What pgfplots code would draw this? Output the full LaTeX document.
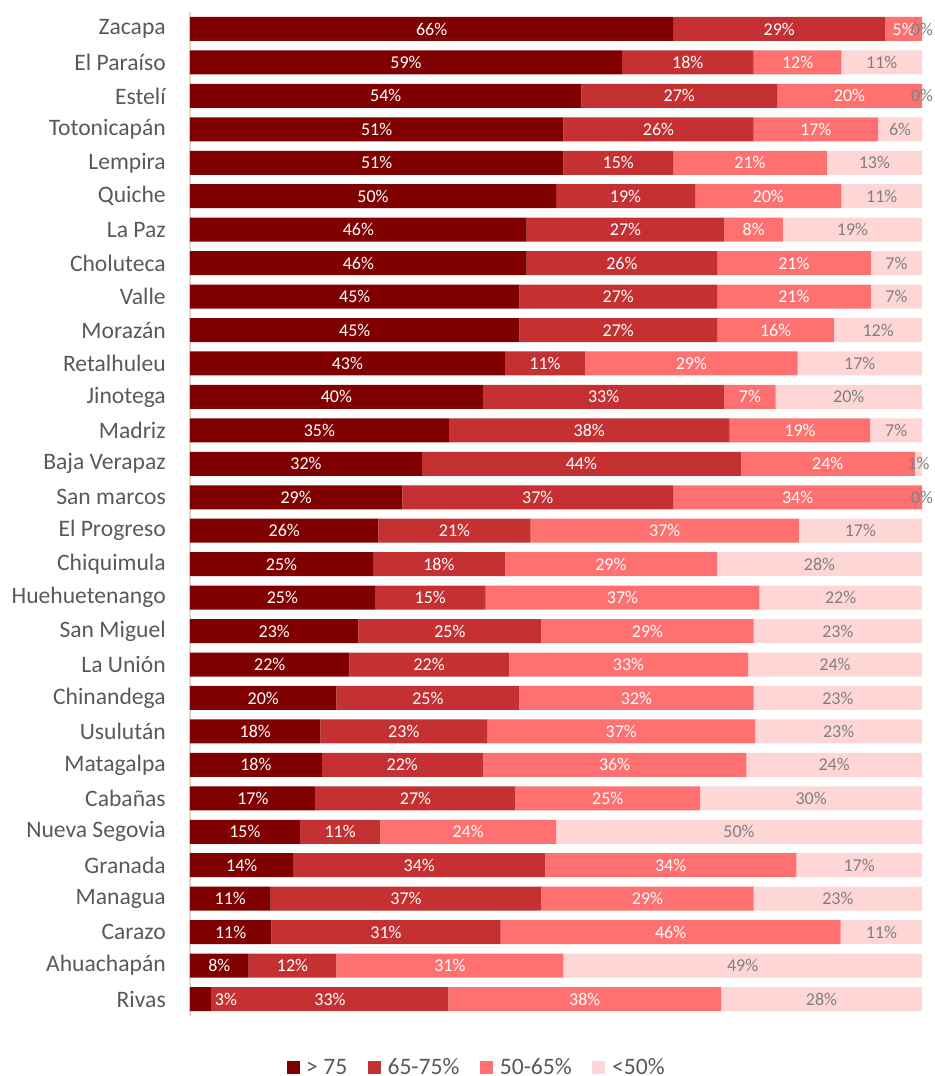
\documentclass[border=0pt]{standalone}
\usepackage{fontspec}
\setmainfont{Carlito}
\usepackage{pgfplots}
\usepackage{pgfplotstable}
\pgfplotsset{compat=1.18}
\definecolor{cA}{RGB}{128,0,0}
\definecolor{cB}{RGB}{197,48,50}
\definecolor{cC}{RGB}{255,112,112}
\definecolor{cD}{RGB}{255,214,214}
\definecolor{labgray}{RGB}{89,89,89}
\definecolor{dgray}{RGB}{128,128,128}
\pgfplotstableread{
idx a b c d
0 66 29 5 0
1 59 18 12 11
2 54 27 20 0
3 51 26 17 6
4 51 15 21 13
5 50 19 20 11
6 46 27 8 19
7 46 26 21 7
8 45 27 21 7
9 45 27 16 12
10 43 11 29 17
11 40 33 7 20
12 35 38 19 7
13 32 44 24 1
14 29 37 34 0
15 26 21 37 17
16 25 18 29 28
17 25 15 37 22
18 23 25 29 23
19 22 22 33 24
20 20 25 32 23
21 18 23 37 23
22 18 22 36 24
23 17 27 25 30
24 15 11 24 50
25 14 34 34 17
26 11 37 29 23
27 11 31 46 11
28 8 12 31 49
29 3 33 38 28
}\data
\newcommand{\rowsum}{(\thisrow{a}+\thisrow{b}+\thisrow{c}+\thisrow{d})}
\pgfplotsset{
  common/.style={
    at={(142.5pt,797.8pt)}, anchor=north west,
    scale only axis, width=549pt, height=752.6pt,
    xmin=0, xmax=100, ymin=-0.5, ymax=29.5,
    y dir=reverse, clip=false,
  },
  lab/.style={draw=none, mark=none, nodes near coords={\pgfmathprintnumber{\pgfplotspointmeta}\%},
    nodes near coords align={center}, point meta=explicit,
    every node near coord/.append style={anchor=center, inner sep=0pt, font=\fontsize{13.5}{15}\selectfont, text=#1}},
}
\begin{document}
\begin{tikzpicture}
\useasboundingbox (0,0) rectangle (701.25pt,807pt);
\begin{axis}[
  common,
  xbar stacked, bar width=18pt,
  axis x line=none,
  axis y line*=left,
  y axis line style={draw=black!15, line width=0.8pt, -},
  ytick={0,...,29},
  yticklabels={Zacapa, El Paraíso, Estelí, Totonicapán, Lempira, Quiche, La Paz, Choluteca, Valle, Morazán, Retalhuleu, Jinotega, Madriz, Baja Verapaz, San marcos, El Progreso, Chiquimula, Huehuetenango, San Miguel, La Unión, Chinandega, Usulután, Matagalpa, Cabañas, Nueva Segovia, Granada, Managua, Carazo, Ahuachapán, Rivas},
  major tick length=0pt,
  yticklabel style={font=\fontsize{17.7}{20}\selectfont, text=labgray, inner sep=0pt, xshift=-18pt},
  legend style={draw=none, fill=none, at={(0.392,-0.052)}, anchor=center, legend columns=4,
    font=\fontsize{17.7}{20}\selectfont, text=labgray,
    /tikz/every odd column/.append style={column sep=3pt},
    /tikz/every even column/.append style={column sep=13.5pt}},
  legend image code/.code={\fill[#1] (0pt,-4.9pt) rectangle (9.75pt,4.9pt);},
]
\addplot[fill=cA, draw=none]
  table[x expr={\thisrow{a}*100/\rowsum}, y=idx] {\data};
\addplot[fill=cB, draw=none]
  table[x expr={\thisrow{b}*100/\rowsum}, y=idx] {\data};
\addplot[fill=cC, draw=none]
  table[x expr={\thisrow{c}*100/\rowsum}, y=idx] {\data};
\addplot[fill=cD, draw=none]
  table[x expr={\thisrow{d}*100/\rowsum}, y=idx] {\data};
\legend{> 75, 65-75\%, 50-65\%, <50\%}
\end{axis}
\begin{axis}[common, hide axis,
  /pgf/number format/.cd, fixed, precision=0, assume math mode=true]
\addplot[lab=white]
  table[x expr={ifthenelse(\thisrow{a}<5, 4.9, \thisrow{a}*50/\rowsum)}, y=idx, meta=a] {\data};
\addplot[lab=white]
  table[x expr={(\thisrow{a}+\thisrow{b}/2)*100/\rowsum}, y=idx, meta=b] {\data};
\addplot[lab=white]
  table[x expr={(\thisrow{a}+\thisrow{b}+\thisrow{c}/2)*100/\rowsum}, y=idx, meta=c] {\data};
\addplot[lab=dgray]
  table[x expr={(\thisrow{a}+\thisrow{b}+\thisrow{c}+\thisrow{d}/2)*100/\rowsum}, y=idx, meta=d] {\data};
\end{axis}
\end{tikzpicture}
\end{document}
